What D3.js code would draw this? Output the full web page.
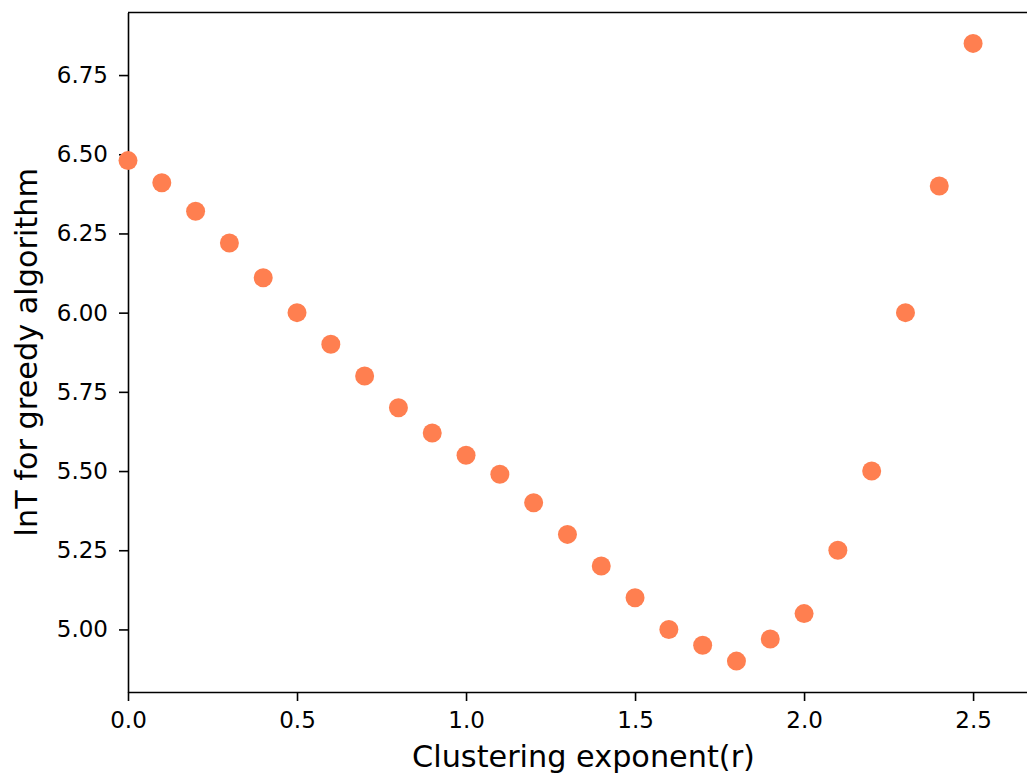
<!DOCTYPE html>
<html>
<head>
<meta charset="utf-8">
<script src="https://cdn.jsdelivr.net/npm/d3@7"></script>
<style>
  body { margin: 0; background: #fff; }
  svg { display: block; }
  text { font-family: "DejaVu Sans", sans-serif; fill: #000; }
</style>
</head>
<body>
<div class="chart"></div>
<script>
// data
var rValues = [0.0, 0.1, 0.2, 0.3, 0.4, 0.5, 0.6, 0.7, 0.8, 0.9, 1.0, 1.1, 1.2,
               1.3, 1.4, 1.5, 1.6, 1.7, 1.8, 1.9, 2.0, 2.1, 2.2, 2.3, 2.4, 2.5];
var lnT = [6.48, 6.41, 6.32, 6.22, 6.11, 6.00, 5.90, 5.80, 5.70, 5.62, 5.55, 5.49, 5.40,
           5.30, 5.20, 5.10, 5.00, 4.95, 4.90, 4.97, 5.05, 5.25, 5.50, 6.00, 6.40, 6.85];
var xTicks = [0.0, 0.5, 1.0, 1.5, 2.0, 2.5];
var yTicks = [5.00, 5.25, 5.50, 5.75, 6.00, 6.25, 6.50, 6.75];
var xLabel = "Clustering exponent(r)";
var yLabel = "lnT for greedy algorithm";

var svgWidth = 1027;
var svgHeight = 776;

// plot area runs past the right edge of the picture (figure is cropped there)
var margin = {top: 12.5, left: 128, bottom: 692, right: 1039};

var svg = d3.select(".chart")
  .append("svg")
  .attr("width", svgWidth)
  .attr("height", svgHeight);

var x = d3.scaleLinear().domain([0, 2.695]).range([margin.left, margin.right]);
var y = d3.scaleLinear().domain([4.8025, 6.9475]).range([margin.bottom, margin.top]);

var tickLen = 9;

var xAxis = d3.axisBottom(x)
  .tickValues(xTicks)
  .tickFormat(d3.format(".1f"))
  .tickSizeInner(tickLen)
  .tickSizeOuter(0)
  .tickPadding(11);

var yAxis = d3.axisLeft(y)
  .tickValues(yTicks)
  .tickFormat(d3.format(".2f"))
  .tickSizeInner(tickLen)
  .tickSizeOuter(0)
  .tickPadding(11);

var gx = svg.append("g")
  .attr("transform", "translate(0," + margin.bottom + ")")
  .call(xAxis);

var gy = svg.append("g")
  .attr("transform", "translate(" + margin.left + ",0)")
  .call(yAxis);

[gx, gy].forEach(function(g) {
  g.selectAll("text")
    .style("font-family", "'DejaVu Sans', sans-serif")
    .style("font-size", "23px")
    .attr("fill", "#000");
  g.selectAll("line").attr("stroke", "#000").attr("stroke-width", 1.6);
  g.select(".domain").attr("stroke", "#000").attr("stroke-width", 1.6);
});

// top spine
svg.append("line")
  .attr("x1", margin.left).attr("x2", margin.right)
  .attr("y1", margin.top).attr("y2", margin.top)
  .attr("stroke", "#000").attr("stroke-width", 1.6);

// points
svg.append("g")
  .selectAll("circle")
  .data(rValues)
  .enter()
  .append("circle")
  .attr("cx", function(d) { return x(d); })
  .attr("cy", function(d, i) { return y(lnT[i]); })
  .attr("r", 9.5)
  .attr("fill", "#ff7f50");

// axis labels
svg.append("text")
  .attr("x", (margin.left + margin.right) / 2)
  .attr("y", 767)
  .attr("text-anchor", "middle")
  .style("font-size", "30.3px")
  .text(xLabel);

svg.append("text")
  .attr("transform", "translate(37," + (margin.top + margin.bottom) / 2 + ") rotate(-90)")
  .attr("text-anchor", "middle")
  .style("font-size", "30.3px")
  .text(yLabel);
</script>
</body>
</html>
